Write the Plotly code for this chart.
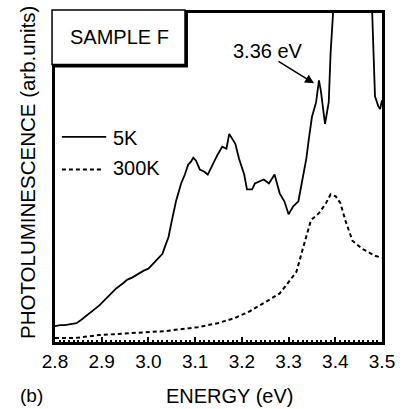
import plotly.graph_objects as go

# 5 K spectrum (solid)
energy_5k = [2.800, 2.811, 2.821, 2.834, 2.846, 2.855, 2.863, 2.878, 2.895, 2.912, 2.922, 2.931,
             2.945, 2.955, 2.965, 2.978, 2.990, 3.000, 3.010, 3.021, 3.030, 3.036, 3.043, 3.049,
             3.059, 3.070, 3.078, 3.085, 3.091, 3.096, 3.102, 3.110, 3.119, 3.127, 3.137, 3.148,
             3.158, 3.167, 3.173, 3.180, 3.186, 3.194, 3.205, 3.211, 3.222, 3.228, 3.239, 3.247,
             3.258, 3.270, 3.281, 3.291, 3.300, 3.310, 3.321, 3.331, 3.338, 3.344, 3.350, 3.359,
             3.365, 3.369, 3.378, 3.386, 3.390, 3.395, 3.401, 3.422, 3.439, 3.460, 3.479, 3.485,
             3.492, 3.496, 3.500]
pl_5k = [16, 17, 17, 18, 19, 22, 25, 30, 37, 45, 50, 54,
         59, 63, 65, 69, 72, 74, 79, 84, 89, 97, 106, 120,
         142, 160, 169, 179, 182, 186, 183, 174, 172, 169, 179, 189,
         197, 195, 210, 204, 200, 185, 169, 154, 154, 160, 162, 164,
         160, 169, 150, 142, 129, 137, 142, 169, 185, 207, 227, 242,
         264, 254, 220, 242, 292, 330, 420, 700, 800, 600, 329, 248,
         238, 235, 244]

# 300 K spectrum (dashed)
energy_300k = [2.800, 2.842, 2.895, 2.965, 3.036, 3.106, 3.148, 3.184, 3.217, 3.253, 3.281,
               3.296, 3.317, 3.331, 3.348, 3.365, 3.380, 3.390, 3.401, 3.411, 3.422, 3.437,
               3.458, 3.485, 3.500]
pl_300k = [4, 4, 7, 9, 11, 15, 19, 24, 31, 41, 49,
           58, 71, 95, 123, 130, 140, 149, 147, 140, 122, 102,
           94, 87, 85]

tick_vals = [2.8, 2.9, 3.0, 3.1, 3.2, 3.3, 3.4, 3.5]
tick_text = ["2.8", "2.9", "3.0", "3.1", "3.2", "3.3", "3.4", "3.5"]
series_names = ["5K", "300K"]

FONT = "Liberation Sans, Arial, sans-serif"

fig = go.Figure()
fig.add_trace(go.Scatter(x=energy_5k, y=pl_5k, mode="lines", name=series_names[0],
                         line=dict(color="black", width=1.8), showlegend=False))
fig.add_trace(go.Scatter(x=energy_300k, y=pl_300k, mode="lines", name=series_names[1],
                         line=dict(color="black", width=2, dash="4px,3px"), showlegend=False))

def px(xp):
    return (xp - 55) / 332.0

def py(yp):
    return (342 - yp) / 332.0

shapes = [
    # box shadow
    dict(type="rect", xref="paper", yref="paper", x0=px(55), x1=px(190), y0=py(65), y1=py(10),
         fillcolor="black", line=dict(width=0), layer="above"),
    # box
    dict(type="rect", xref="paper", yref="paper", x0=px(52), x1=px(187), y0=py(62), y1=py(7),
         fillcolor="white", line=dict(color="black", width=1.5), layer="above"),
    # legend lines
    dict(type="line", xref="paper", yref="paper", x0=px(62), x1=px(107), y0=py(135), y1=py(135),
         line=dict(color="black", width=1.8)),
    dict(type="line", xref="paper", yref="paper", x0=px(62), x1=px(104), y0=py(168), y1=py(168),
         line=dict(color="black", width=2, dash="4px,3px")),
]

annotations = [
    dict(text="SAMPLE F", xref="paper", yref="paper", x=px(120), y=py(34), showarrow=False,
         font=dict(size=20, family=FONT, color="black"), xanchor="center", yanchor="middle"),
    dict(text=series_names[0], xref="paper", yref="paper", x=px(112), y=py(136), showarrow=False,
         font=dict(size=20, family=FONT, color="black"), xanchor="left", yanchor="middle"),
    dict(text=series_names[1], xref="paper", yref="paper", x=px(112), y=py(166), showarrow=False,
         font=dict(size=20, family=FONT, color="black"), xanchor="left", yanchor="middle"),
    dict(text="3.36 eV", xref="paper", yref="paper", x=px(271), y=py(48), showarrow=False,
         font=dict(size=20, family=FONT, color="black"), xanchor="center", yanchor="middle"),
    dict(text="", x=3.3545, y=261, xref="x", yref="y", showarrow=True, ax=-37, ay=-23,
         arrowhead=2, arrowsize=1.2, arrowwidth=1.5, arrowcolor="black"),
    dict(text="PHOTOLUMINESCENCE (arb.units)", xref="paper", yref="paper", x=px(27), y=py(171),
         showarrow=False, textangle=-90, font=dict(size=20.5, family=FONT, color="black"),
         xanchor="center", yanchor="middle"),
    dict(text="ENERGY (eV)", xref="paper", yref="paper", x=px(232), y=py(396), showarrow=False,
         font=dict(size=20, family=FONT, color="black"), xanchor="center", yanchor="middle"),
    dict(text="(b)", xref="paper", yref="paper", x=px(31), y=py(396), showarrow=False,
         font=dict(size=19, family=FONT, color="black"), xanchor="center", yanchor="middle"),
]

fig.update_layout(
    width=405, height=409,
    margin=dict(l=55, r=18, t=10, b=67),
    paper_bgcolor="white", plot_bgcolor="white",
    shapes=shapes, annotations=annotations,
    xaxis=dict(range=[2.8, 3.5], tickvals=tick_vals, ticktext=tick_text,
               ticks="inside", ticklen=5, tickwidth=2, tickcolor="black",
               minor=dict(dtick=0.01, ticks="inside", ticklen=2.5, tickwidth=1.5, tickcolor="black"),
               showline=True, linecolor="black", linewidth=2.5, mirror=True,
               showgrid=False, zeroline=False,
               tickfont=dict(size=19, family=FONT, color="black")),
    yaxis=dict(range=[0, 332], showticklabels=False, ticks="",
               showline=True, linecolor="black", linewidth=2.5, mirror=True,
               showgrid=False, zeroline=False),
)

fig.write_html("out.html", config={"displayModeBar": False},
               post_script="document.body.style.margin='0px';document.body.style.overflow='hidden';")
